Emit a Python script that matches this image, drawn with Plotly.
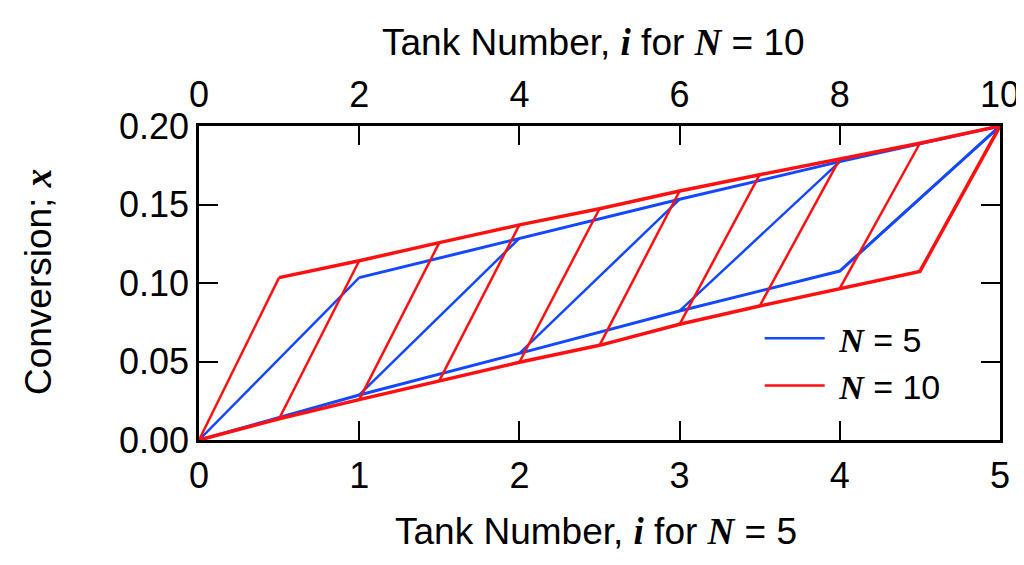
import plotly.graph_objects as go

# ---- data ----
tanks5 = [0, 1, 2, 3, 4, 5]
upper5 = [0.0, 0.1034, 0.1285, 0.1533, 0.1773, 0.200]
lower5 = [0.0, 0.0287, 0.0552, 0.0822, 0.1076, 0.200]

tanks10 = [0, 0.5, 1, 1.5, 2, 2.5, 3, 3.5, 4, 4.5, 5]
upper10 = [0.0, 0.1034, 0.1142, 0.1257, 0.1370, 0.1473, 0.1586, 0.1690, 0.1790, 0.1890, 0.200]
lower10 = [0.0, 0.0135, 0.0257, 0.0378, 0.0495, 0.0603, 0.0737, 0.0854, 0.0966, 0.1074, 0.200]

xticks_bottom = [0, 1, 2, 3, 4, 5]
xticks_top = [0, 2, 4, 6, 8, 10]
yticks = [0.0, 0.05, 0.10, 0.15, 0.20]

SERIF = "'Liberation Serif', 'DejaVu Serif', serif"
SANS = "Liberation Sans, Arial, sans-serif"


def sym(s):
    return f"<span style=\"font-family:{SERIF}\"><b><i>{s}</i></b></span>"


def polylines(xs, up, lo):
    """upper polyline and lower polyline"""
    px = list(xs[1:]) + [None] + list(xs)
    py = list(up[1:]) + [None] + list(lo)
    return px, py


def diagonals(xs, up, lo):
    """segments lower[k] -> upper[k+1]"""
    px, py = [], []
    for k in range(len(xs) - 1):
        px += [xs[k], xs[k + 1], None]
        py += [lo[k], up[k + 1], None]
    return px, py


BLUE = "#1448ff"
RED = "#ff1010"

fig = go.Figure()
for xs, up, lo, color, label, wpoly in [
    (tanks5, upper5, lower5, BLUE, f"&nbsp;{sym('N')} = 5", 3.0),
    (tanks10, upper10, lower10, RED, f"&nbsp;{sym('N')} = 10", 3.5),
]:
    dx, dy = diagonals(xs, up, lo)
    fig.add_trace(go.Scatter(x=dx, y=dy, mode="lines", name=label, legendgroup=label,
                             line=dict(color=color, width=2.5)))
    px, py = polylines(xs, up, lo)
    fig.add_trace(go.Scatter(x=px, y=py, mode="lines", name=label, legendgroup=label,
                             showlegend=False, line=dict(color=color, width=wpoly)))

fig.add_trace(go.Scatter(x=[0, 10], y=[0, 0], xaxis="x2", mode="lines",
                         line=dict(width=0), showlegend=False, hoverinfo="skip"))

axis_common = dict(showline=True, linecolor="black", linewidth=2.5,
                   ticks="inside", ticklen=19, tickwidth=2, tickcolor="black",
                   showgrid=False, zeroline=False, automargin=False,
                   tickfont=dict(family=SANS, size=36, color="black"))

TITLE_FONT = dict(family=SANS, size=37, color="black")

# the page adds an 8px body margin, so the figure is sized 8px smaller
fig.update_layout(
    width=1016, height=557,
    margin=dict(l=191, r=24, t=118, b=125, autoexpand=False),
    paper_bgcolor="white", plot_bgcolor="white",
    font=dict(family=SANS, color="black"),
    showlegend=True,
    legend=dict(x=0.70, y=0.415, xanchor="left", yanchor="top",
                bgcolor="rgba(0,0,0,0)", font=dict(family=SANS, size=34),
                itemwidth=60, tracegroupgap=0),
    xaxis=dict(range=[0, 5], tickvals=xticks_bottom, ticktext=[str(v) for v in xticks_bottom],
               ticklabelstandoff=2, **axis_common),
    xaxis2=dict(range=[0, 10], tickvals=xticks_top, ticktext=[str(v) for v in xticks_top],
                overlaying="x", side="top", anchor="y", ticklabelstandoff=2,
                **axis_common),
    yaxis=dict(range=[0, 0.20], tickvals=yticks, ticktext=[f"{v:.2f}" for v in yticks],
               mirror="ticks", ticklabelstandoff=0, **axis_common),
    annotations=[
        dict(text=f"Tank Number, {sym('i')} for {sym('N')} = 10", xref="paper", yref="paper",
             x=0.492, y=1, yshift=84, xanchor="center", yanchor="middle",
             showarrow=False, font=TITLE_FONT),
        dict(text=f"Tank Number, {sym('i')} for {sym('N')} = 5", xref="paper", yref="paper",
             x=0.496, y=0, yshift=-91, xanchor="center", yanchor="middle",
             showarrow=False, font=TITLE_FONT),
        dict(text=f"Conversion; {sym('x')}", xref="paper", yref="paper",
             x=0, y=0.503, xshift=-161, xanchor="center", yanchor="middle",
             textangle=-90, showarrow=False, font=TITLE_FONT),
    ],
)

fig.write_html("out.html")
